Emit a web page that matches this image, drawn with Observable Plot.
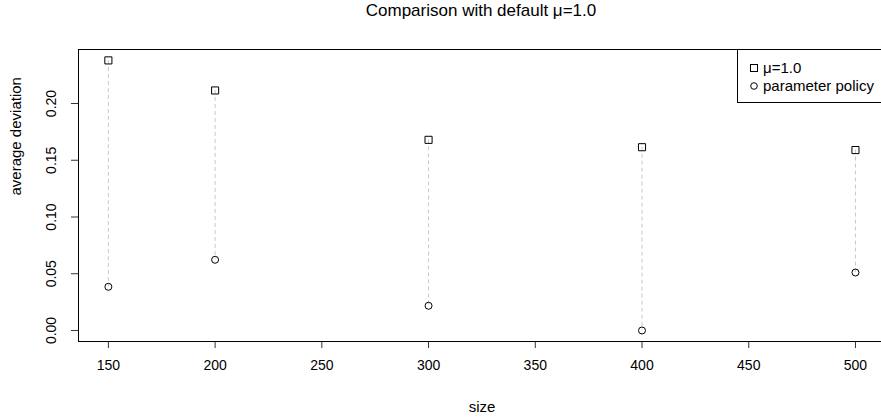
<!DOCTYPE html>
<html>
<head>
<meta charset="utf-8">
<script src="https://cdn.jsdelivr.net/npm/d3@7"></script>
<script src="https://cdn.jsdelivr.net/npm/@observablehq/plot@0.6"></script>
<style>
  html, body { margin:0; padding:0; background:white; overflow:hidden; }
  #wrap { position:relative; width:881px; height:417px; overflow:hidden; font-family:"Liberation Sans", Arial, sans-serif; }
  #title { height:30px; width:800px; padding-left:81px; text-align:center; font-size:17px; line-height:22px; color:#000; }
  #legend { position:absolute; left:737px; top:49px; width:170px; height:54px; border:1px solid #000; border-right:none; background:white; font-size:15px; color:#000; box-sizing:border-box; padding-top:9px; }
  #legend .row { height:18px; line-height:18px; white-space:nowrap; display:flex; align-items:center; }
  #legend svg { margin-left:12px; margin-right:5px; }
</style>
</head>
<body>
<div id="wrap">
  <div id="title">Comparison with default μ=1.0</div>
  <div id="chart"></div>
  <div id="legend"></div>
</div>
<script>
const sizes = [150, 200, 300, 400, 500];
const muDefault = [0.238, 0.2115, 0.168, 0.1615, 0.159];
const paramPolicy = [0.0385, 0.0623, 0.0218, 0.0, 0.0511];
const xTicks = [150, 200, 250, 300, 350, 400, 450, 500];
const yTicks = [0, 0.05, 0.10, 0.15, 0.20];
const seriesNames = ["μ=1.0", "parameter policy"];
const xDomain = [136, 512.2];
const yDomain = [-0.0097, 0.2476];

const rows = sizes.map((s, i) => ({size: s, mu: muDefault[i], policy: paramPolicy[i]}));

const chart = Plot.plot({
  width: 881,
  height: 387,
  marginTop: 19,
  marginBottom: 76,
  marginLeft: 78,
  marginRight: 0,
  x: {domain: xDomain},
  y: {domain: yDomain},
  style: {fontFamily: "'Liberation Sans', Arial, sans-serif", fontSize: "14px", color: "black", background: "white", overflow: "visible"},
  marks: [
    Plot.ruleX(rows, {x: "size", y1: "mu", y2: "policy", stroke: "#c8c8c8", strokeDasharray: "4,3"}),
    Plot.dot(rows, {x: "size", y: "mu", symbol: "square", r: 4, stroke: "black", strokeWidth: 1}),
    Plot.dot(rows, {x: "size", y: "policy", symbol: "circle", r: 3.5, stroke: "black", strokeWidth: 1}),
    Plot.axisX({ticks: xTicks, tickSize: 7, tickPadding: 12, tickFormat: d => String(d), label: null, stroke: "#333"}),
    Plot.axisY({ticks: yTicks, tickSize: 7, tickFormat: () => "", label: null, stroke: "#333"}),
    Plot.text(yTicks, {y: d => d, frameAnchor: "left", dx: -27, rotate: -90, text: d => d.toFixed(2), textAnchor: "middle", lineAnchor: "middle"}),
    Plot.text(["average deviation"], {frameAnchor: "left", dx: -62, rotate: -90, text: d => d, lineAnchor: "middle", fontSize: 15}),
    Plot.text(["size"], {frameAnchor: "bottom", dy: 66, dx: 2, text: d => d, lineAnchor: "middle", fontSize: 15}),
    Plot.ruleY([yDomain[0], yDomain[1]], {stroke: "black"}),
    Plot.ruleX([xDomain[0]], {stroke: "black"})
  ]
});
document.getElementById("chart").appendChild(chart);

const legend = document.getElementById("legend");
const symbols = [
  '<svg width="8" height="8"><rect x="0.5" y="0.5" width="7" height="7" fill="none" stroke="black"/></svg>',
  '<svg width="8" height="8"><circle cx="4" cy="4" r="3.3" fill="none" stroke="black"/></svg>'
];
seriesNames.forEach((name, i) => {
  const row = document.createElement("div");
  row.className = "row";
  row.innerHTML = symbols[i] + "<span>" + name + "</span>";
  legend.appendChild(row);
});
</script>
</body>
</html>
